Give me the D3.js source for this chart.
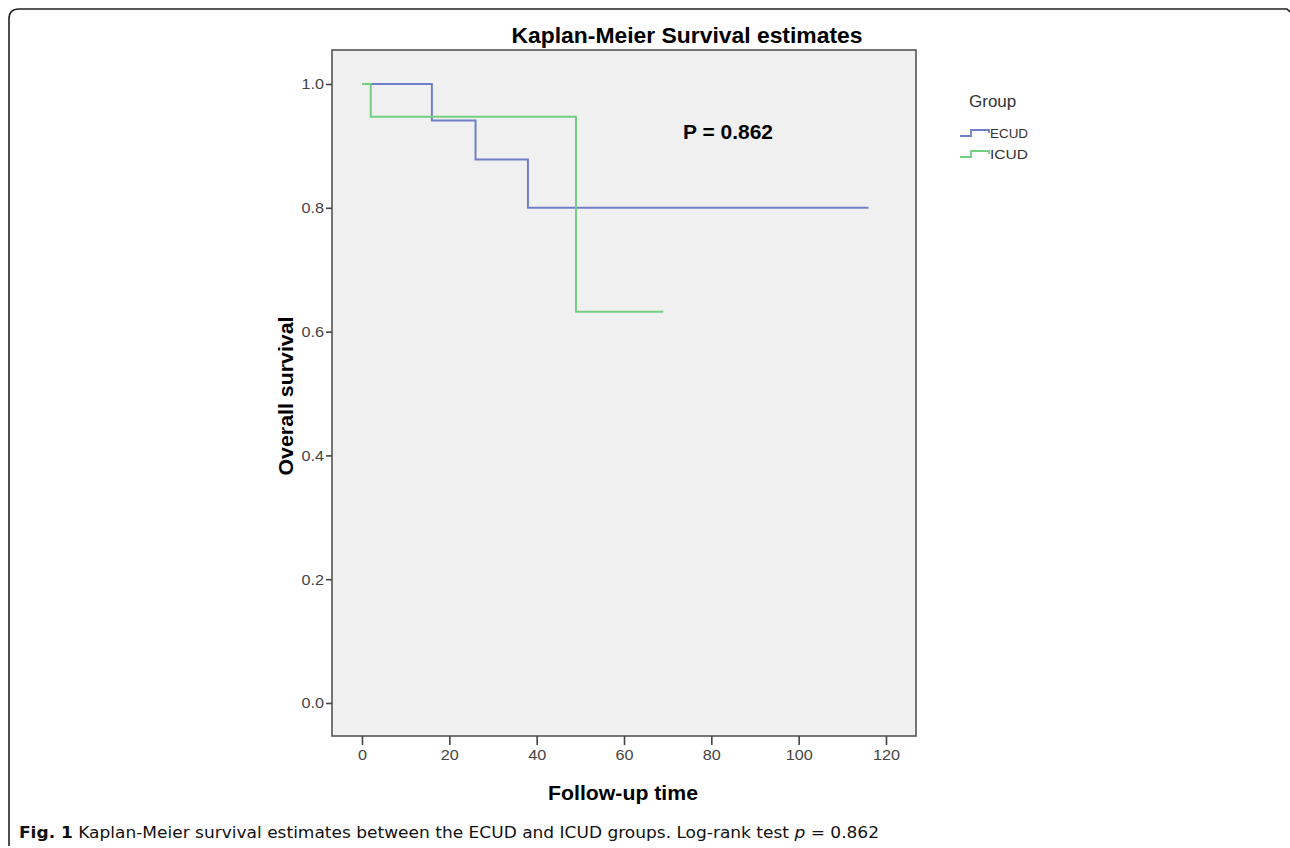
<!DOCTYPE html>
<html><head><meta charset="utf-8">
<script src="https://cdn.jsdelivr.net/npm/d3@7"></script>
<style>body{margin:0;background:#fff}svg{display:block}</style>
</head><body>
<svg id="c" width="1290" height="848"></svg>
<script>
const groups = ["ECUD", "ICUD"];
const colors = ["#6f80c8", "#72cf80"];
const ecudTime = [0, 16, 26, 38, 116];
const ecudSurv = [1.0, 0.941, 0.878, 0.8, 0.8];
const icudTime = [0, 2, 49, 69];
const icudSurv = [1.0, 0.947, 0.632, 0.632];
const xTicks = [0, 20, 40, 60, 80, 100, 120];
const yTicks = [0.0, 0.2, 0.4, 0.6, 0.8, 1.0];
const pText = "P = 0.862";

const svg = d3.select("#c");
const font = "'Liberation Sans', Arial, sans-serif";

// outer frame
svg.append("path")
  .attr("d", "M9,846 L9,19 Q9,9 19,9 L1287,9 L1290,12")
  .attr("fill", "none").attr("stroke", "#222").attr("stroke-width", 1.6);

const plot = {left: 332, right: 916, top: 50, bottom: 736};
const x = d3.scaleLinear().domain([0, 120]).range([362, 886]);
const y = d3.scaleLinear().domain([0, 1]).range([703, 84]);

svg.append("rect").attr("x", plot.left).attr("y", plot.top)
  .attr("width", plot.right - plot.left).attr("height", plot.bottom - plot.top)
  .attr("fill", "#f0f0f0").attr("stroke", "#555").attr("stroke-width", 1.6);

// axes
const xAxis = svg.append("g").attr("transform", `translate(0,${plot.bottom})`)
  .call(d3.axisBottom(x).tickValues(xTicks).tickSize(9).tickPadding(4).tickFormat(d3.format("d")));
const yAxis = svg.append("g").attr("transform", `translate(${plot.left},0)`)
  .call(d3.axisLeft(y).tickValues(yTicks).tickSize(6).tickPadding(2).tickFormat(d3.format(".1f")));
[xAxis, yAxis].forEach(a => {
  a.attr("font-size", 15).attr("font-family", font);
  a.select(".domain").remove();
  a.selectAll(".tick line").attr("stroke", "#444").attr("stroke-width", 1.6);
  a.selectAll(".tick text").attr("fill", "#444").attr("textLength", function() { return this.getComputedTextLength() * 1.08; })
    .attr("lengthAdjust", "spacingAndGlyphs");
});

// curves
const line = d3.line().x(d => x(d[0])).y(d => y(d[1])).curve(d3.curveStepAfter);
const series = [d3.zip(ecudTime, ecudSurv), d3.zip(icudTime, icudSurv)];
series.forEach((s, i) => {
  svg.append("path").datum(s).attr("d", line)
    .attr("fill", "none").attr("stroke", colors[i]).attr("stroke-width", 2);
});

// title and labels
svg.append("text").attr("x", 687).attr("y", 43).attr("text-anchor", "middle")
  .style("font-family", font).style("font-weight", "bold").style("font-size", "22px")
  .attr("textLength", 351).attr("lengthAdjust", "spacingAndGlyphs")
  .text("Kaplan-Meier Survival estimates");
svg.append("text").attr("x", 683).attr("y", 139)
  .style("font-family", font).style("font-weight", "bold").style("font-size", "20px")
  .attr("textLength", 90).attr("lengthAdjust", "spacingAndGlyphs")
  .text(pText);
svg.append("text").attr("transform", "translate(293,396) rotate(-90)").attr("text-anchor", "middle")
  .style("font-family", font).style("font-weight", "bold").style("font-size", "20px")
  .attr("textLength", 159).attr("lengthAdjust", "spacingAndGlyphs")
  .text("Overall survival");
svg.append("text").attr("x", 623).attr("y", 800).attr("text-anchor", "middle")
  .style("font-family", font).style("font-weight", "bold").style("font-size", "20px")
  .attr("textLength", 150).attr("lengthAdjust", "spacingAndGlyphs")
  .text("Follow-up time");

// legend
svg.append("text").attr("x", 969).attr("y", 107)
  .style("font-family", font).style("font-size", "17px").attr("fill", "#333").text("Group");
groups.forEach((g, i) => {
  const ly = 133 + i * 21;
  svg.append("path")
    .attr("d", `M960,${ly + 3} L971,${ly + 3} L971,${ly - 3} L989,${ly - 3} L989,${ly}`)
    .attr("fill", "none").attr("stroke", colors[i]).attr("stroke-width", 1.8);
  svg.append("text").attr("x", 990).attr("y", ly + 5)
    .style("font-family", font).style("font-size", "13px").attr("fill", "#333")
    .attr("textLength", 38).attr("lengthAdjust", "spacingAndGlyphs").text(g);
});

// caption
const cap = svg.append("text").attr("x", 19).attr("y", 838)
  .style("font-family", "'DejaVu Sans Condensed', 'Liberation Sans Narrow', sans-serif").style("font-size", "15.5px")
  .attr("fill", "#111");
cap.append("tspan").style("font-weight", "bold").text("Fig. 1");
cap.append("tspan").text(" Kaplan-Meier survival estimates between the ECUD and ICUD groups. Log-rank test ");
cap.append("tspan").style("font-style", "italic").text("p");
cap.append("tspan").text(" = 0.862");
cap.attr("textLength", 860).attr("lengthAdjust", "spacingAndGlyphs");
</script>
</body></html>
